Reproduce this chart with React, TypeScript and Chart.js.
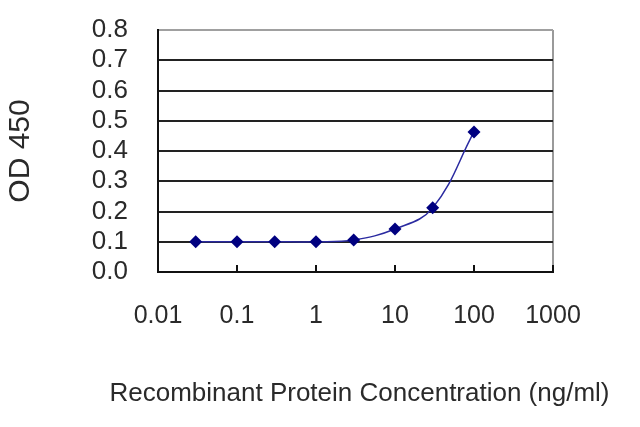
import React, { useEffect, useRef } from "react";
import { Chart, registerables } from "chart.js";

Chart.register(...registerables);

const CONCENTRATIONS = [0.03, 0.1, 0.3, 1, 3, 10, 30, 100];
const OD_VALUES = [0.1, 0.1, 0.1, 0.1, 0.106, 0.142, 0.212, 0.463];
const X_TICKS = [0.01, 0.1, 1, 10, 100, 1000];
const Y_TICKS = [0, 0.1, 0.2, 0.3, 0.4, 0.5, 0.6, 0.7, 0.8];
const X_TITLE = "Recombinant Protein Concentration (ng/ml)";
const Y_TITLE = "OD 450";

const REGULAR = "'Liberation Sans', Arial, sans-serif";
const TEXT_COLOR = "#2a2a2a";

const innerTicks = {
  id: "innerTicks",
  afterDraw(chart: any) {
    const x = chart.scales.x;
    const { ctx, chartArea } = chart;
    ctx.save();
    ctx.strokeStyle = "#111";
    ctx.lineWidth = 2;
    X_TICKS.slice(1).forEach((v) => {
      const px = x.getPixelForValue(v);
      ctx.beginPath();
      ctx.moveTo(px, chartArea.bottom);
      ctx.lineTo(px, chartArea.bottom - 7);
      ctx.stroke();
    });
    // x-axis title drawn without the scale's max-width squeeze
    ctx.fillStyle = TEXT_COLOR;
    ctx.font = `26px ${REGULAR}`;
    ctx.textAlign = "center";
    ctx.textBaseline = "middle";
    ctx.fillText(X_TITLE, (x.left + x.right) / 2 + 4, x.bottom - 33);
    ctx.restore();
  },
};

export default function App() {
  const ref = useRef<HTMLCanvasElement>(null);
  useEffect(() => {
    if (!ref.current) return;
    const chart = new Chart(ref.current, {
      type: "line",
      data: {
        datasets: [
          {
            data: CONCENTRATIONS.map((c, i) => ({ x: c, y: OD_VALUES[i] })),
            borderColor: "#2a2aa0",
            borderWidth: 1.5,
            tension: 0.4,
            pointStyle: "rectRot",
            pointRadius: 6.5,
            pointBackgroundColor: "#000080",
            pointBorderColor: "#000080",
            pointBorderWidth: 0,
          },
        ],
      },
      options: {
        animation: false,
        responsive: false,
        devicePixelRatio: 1,
        layout: { padding: { top: 30, right: 87, left: 0, bottom: 0 } },
        plugins: { legend: { display: false }, tooltip: { enabled: false } },
        scales: {
          x: {
            type: "logarithmic",
            min: 0.01,
            max: 1000,
            afterBuildTicks: (s: any) => {
              s.ticks = X_TICKS.map((value) => ({ value }));
            },
            afterFit: (s: any) => {
              s.height = 155;
              s.paddingLeft = 0;
              s.paddingRight = 0;
            },
            ticks: {
              padding: 29,
              color: TEXT_COLOR,
              font: { family: REGULAR, size: 25 },
              autoSkip: false,
              maxRotation: 0,
              callback: (v: any) => String(v),
            },
            grid: {
              drawTicks: false,
              lineWidth: 2,
              color: (c: any) => (c.tick && c.tick.value === 1000 ? "#9a9a9a" : "rgba(0,0,0,0)"),
            },
            border: { display: true, color: "#111", width: 2 },
            title: { display: false },
          },
          y: {
            type: "linear",
            min: 0,
            max: 0.8,
            afterBuildTicks: (s: any) => {
              s.ticks = Y_TICKS.map((value) => ({ value }));
            },
            afterFit: (s: any) => {
              s.width = 158;
              s.paddingTop = 0;
              s.paddingBottom = 0;
            },
            ticks: {
              padding: 30,
              autoSkip: false,
              color: TEXT_COLOR,
              font: { family: REGULAR, size: 26 },
              callback: (v: any) => Number(v).toFixed(1),
            },
            grid: {
              drawTicks: false,
              lineWidth: 2,
              color: (c: any) => (c.tick && c.tick.value === 0.8 ? "#a0a0a0" : "#222"),
            },
            border: { display: true, color: "#111", width: 2 },
            title: {
              display: true,
              text: Y_TITLE,
              color: TEXT_COLOR,
              font: { family: REGULAR, size: 30 },
              padding: { top: 3, bottom: 0 },
            },
          },
        },
      },
      plugins: [innerTicks],
    });
    return () => chart.destroy();
  }, []);
  return (
    <div style={{ position: "fixed", left: 0, top: 0, width: 640, height: 427, background: "#fff" }}>
      <canvas ref={ref} width={640} height={427} style={{ width: 640, height: 427 }} />
    </div>
  );
}
